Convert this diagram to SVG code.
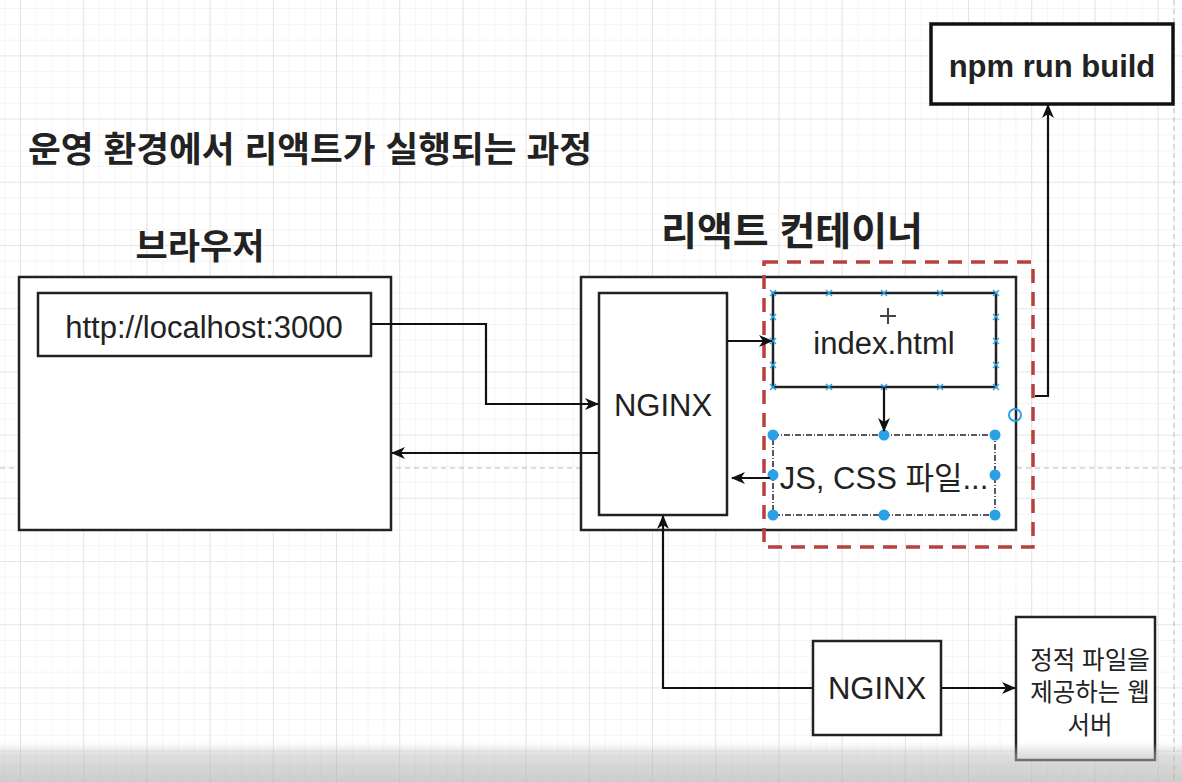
<svg xmlns="http://www.w3.org/2000/svg" width="1182" height="782" viewBox="0 0 1182 782">
<defs>
<pattern id="minor" patternUnits="userSpaceOnUse" x="20" y="55.4" width="15.8" height="15.8">
<path d="M0,0 H15.8 M0,0 V15.8" fill="none" stroke="#ececec" stroke-width="1"/>
</pattern>
<pattern id="major" patternUnits="userSpaceOnUse" x="20" y="55.4" width="63.2" height="63.2">
<path d="M0,0 H63.2 M0,0 V63.2" fill="none" stroke="#d9d9d9" stroke-width="1.2"/>
</pattern>
<linearGradient id="shade" x1="0" y1="0" x2="0" y2="1">
<stop offset="0" stop-color="#bbb" stop-opacity="0"/>
<stop offset="0.35" stop-color="#bbb" stop-opacity="0.5"/>
<stop offset="1" stop-color="#aaa" stop-opacity="0.6"/>
</linearGradient>
<marker id="arr" viewBox="0 0 14 12" refX="13" refY="6" markerWidth="14" markerHeight="12" markerUnits="userSpaceOnUse" orient="auto">
<path d="M0,0 L14,6 L0,12 L4,6 Z" fill="#111"/>
</marker>
</defs>
<style>
text{font-family:"Liberation Sans","Noto Sans CJK KR",sans-serif;fill:#222}
.box{fill:#fff;stroke:#222;stroke-width:2.5}
.lbl{font-size:31px;text-anchor:middle}
.conn{fill:none;stroke:#111;stroke-width:2.2;marker-end:url(#arr)}
.h{fill:#2aa0e6}
.x{stroke:#2aa0e6;stroke-width:1.3}
</style>
<rect width="1182" height="782" fill="#fff"/>
<rect width="1182" height="782" fill="url(#minor)"/>
<rect width="1182" height="782" fill="url(#major)"/>
<line x1="0" y1="468" x2="1182" y2="468" stroke="#bbb" stroke-width="1" stroke-dasharray="5 4"/>
<line x1="1174" y1="0" x2="1174" y2="782" stroke="#bbb" stroke-width="1" stroke-dasharray="5 4"/>

<g id="title"><text x="28" y="162" font-size="35" font-weight="bold" textLength="564" lengthAdjust="spacingAndGlyphs">운영 환경에서 리액트가 실행되는 과정</text></g>
<g id="browser-label"><text x="200" y="259" font-size="35" font-weight="bold" text-anchor="middle">브라우저</text></g>
<g id="container-label"><text x="792" y="245" font-size="39" font-weight="bold" text-anchor="middle">리액트 컨테이너</text></g>

<g id="browser"><rect class="box" x="19" y="277" width="372" height="253"/></g>
<g id="url"><rect class="box" x="38" y="293" width="333" height="63"/><text class="lbl" x="204" y="338" font-size="30">http://localhost:3000</text></g>
<g id="container"><rect class="box" x="581" y="277" width="435" height="253"/></g>
<g id="nginx-inner"><rect class="box" x="599" y="293" width="128" height="222"/><text class="lbl" x="663" y="416">NGINX</text></g>
<g id="index"><rect class="box" x="773" y="293" width="223" height="94"/><text class="lbl" x="884" y="354">index.html</text>
<g class="x"><path d="M770,290l6,6m0,-6l-6,6 M826,290l6,6m0,-6l-6,6 M881,290l6,6m0,-6l-6,6 M937,290l6,6m0,-6l-6,6 M993,290l6,6m0,-6l-6,6 M770,384l6,6m0,-6l-6,6 M826,384l6,6m0,-6l-6,6 M881,384l6,6m0,-6l-6,6 M937,384l6,6m0,-6l-6,6 M993,384l6,6m0,-6l-6,6 M770,314l6,6m0,-6l-6,6 M770,338l6,6m0,-6l-6,6 M770,362l6,6m0,-6l-6,6 M993,314l6,6m0,-6l-6,6 M993,338l6,6m0,-6l-6,6 M993,362l6,6m0,-6l-6,6"/></g>
<g stroke="#444" stroke-width="2"><path d="M888,308v16 M880,316h16"/></g>
</g>
<g id="jscss"><rect x="773" y="435" width="222" height="80" fill="#fff" stroke="#222" stroke-width="1.5" stroke-dasharray="6 2 1 2"/><text class="lbl" x="884" y="489">JS, CSS 파일...</text>
<circle class="h" cx="773" cy="435" r="5.5"/><circle class="h" cx="884" cy="435" r="5.5"/><circle class="h" cx="995" cy="435" r="5.5"/>
<circle class="h" cx="773" cy="475" r="5.5"/><circle class="h" cx="995" cy="475" r="5.5"/>
<circle class="h" cx="773" cy="515" r="5.5"/><circle class="h" cx="884" cy="515" r="5.5"/><circle class="h" cx="995" cy="515" r="5.5"/>
<circle cx="1015" cy="415" r="6" fill="none" stroke="#2aa0e6" stroke-width="2"/>
</g>
<g id="group-highlight"><rect x="764" y="262" width="269" height="285" fill="none" stroke="#b8403f" stroke-width="3.5" stroke-dasharray="14 9"/></g>
<g id="npm"><rect x="931" y="24" width="242" height="80" fill="#fff" stroke="#111" stroke-width="3.5"/><text class="lbl" x="1052" y="77" font-weight="bold">npm run build</text></g>
<g id="nginx-bottom"><rect class="box" x="813" y="641" width="128" height="94"/><text class="lbl" x="877" y="699">NGINX</text></g>
<g id="static-server"><rect class="box" x="1016" y="617" width="139" height="143"/>
<text x="1090" y="669" font-size="24.5" text-anchor="middle">정적 파일을</text>
<text x="1090" y="701" font-size="24.5" text-anchor="middle">제공하는 웹</text>
<text x="1090" y="734" font-size="24.5" text-anchor="middle">서버</text></g>

<g id="connectors">
<path class="conn" d="M371,324 H486 V404 H598"/>
<path class="conn" d="M599,453 H392"/>
<path class="conn" d="M727,341 H772"/>
<path class="conn" d="M884,387 V431"/>
<path class="conn" d="M770,478 H732"/>
<path class="conn" d="M1035,396 H1048 V105"/>
<path class="conn" d="M813,688 H663 V516"/>
<path class="conn" d="M941,688 H1015"/>
</g>
<rect x="0" y="742" width="1182" height="40" fill="url(#shade)"/>
</svg>
